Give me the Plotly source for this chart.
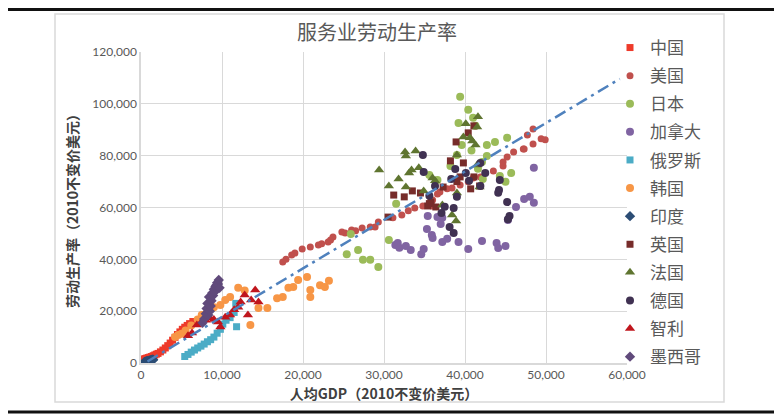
import plotly.graph_objects as go

# ---------------- data ----------------
countries = ["中国", "美国", "日本", "加拿大", "俄罗斯", "韩国", "印度", "英国", "法国", "德国", "智利", "墨西哥"]

cn_x = [300, 500, 700, 900, 1100, 1300, 1500, 1700, 1900, 2100, 2400, 2700, 3000, 3300, 3600, 3900, 4200, 4500, 4800, 5100, 5400, 5700, 6000, 6400]
cn_y = [1500, 1700, 1900, 2100, 2300, 2500, 2800, 3100, 3400, 3700, 4300, 5000, 5800, 6700, 7700, 8800, 9900, 11000, 12000, 13000, 13800, 14500, 15200, 16000]

us_x = [17500, 17900, 18600, 19000, 19900, 20900, 21900, 22300, 23100, 23400, 23700, 24800, 25200, 26000, 26500, 27300, 28300, 28900, 29300, 31100, 32200, 33000, 33800, 34800, 35900, 36000, 36600, 36900, 37800, 38400, 39400, 40400, 41000, 41900, 43500, 44700, 44700, 45200, 46000, 47200, 47300, 48400, 47700, 48400, 49400, 49900]
us_y = [39000, 40000, 41700, 42400, 44000, 44800, 45500, 46000, 46700, 47500, 48600, 50500, 50200, 51300, 51000, 52100, 52500, 52500, 54400, 56000, 57100, 58700, 59800, 60600, 60600, 62900, 65200, 66000, 67200, 67500, 68700, 69900, 71400, 71800, 74100, 76000, 77600, 79500, 81400, 82600, 82600, 84500, 88000, 90300, 86500, 86100]

jp_x = [25400, 25900, 26800, 27400, 28300, 29300, 30600, 31500, 35600, 36600, 38200, 39000, 39200, 39400, 39600, 40400, 41000, 41300, 42100, 42200, 42700, 42700, 43700, 44300, 45000, 45200, 45700, 41600, 40800]
jp_y = [42000, 49800, 43600, 39800, 39800, 37000, 47500, 61400, 72500, 70600, 76000, 80300, 92600, 102700, 84100, 97700, 94600, 91500, 77600, 71000, 84100, 79900, 85300, 72200, 69900, 86900, 73300, 75000, 82000]

ca_x = [31400, 31700, 31900, 32700, 33300, 34600, 34900, 35300, 35400, 35900, 36000, 36600, 37000, 37200, 37200, 37800, 39200, 40400, 42100, 43900, 44100, 45000, 45300, 46300, 47300, 48000, 48500, 48500]
ca_y = [45500, 46300, 44500, 45100, 43600, 42000, 44000, 51700, 56700, 49400, 48200, 56300, 53600, 56000, 46700, 47900, 46700, 44000, 47100, 46300, 44400, 45100, 55200, 60200, 63300, 64100, 61800, 75300]

ru_x = [5400, 5800, 6200, 6600, 7000, 7400, 7800, 8200, 8600, 9000, 9400, 9800, 10100, 10500, 11000, 11500, 11700, 11800]
ru_y = [2500, 3300, 4200, 5000, 5800, 6500, 7300, 8200, 9000, 10000, 11500, 13000, 15000, 16500, 17500, 19500, 23000, 14000]

kr_x = [4200, 4600, 5000, 5500, 6200, 7000, 7500, 8200, 9000, 9800, 10400, 11000, 12000, 12800, 13500, 14500, 15600, 16800, 17500, 18200, 18800, 19400, 20500, 20900, 20900, 22100, 22700, 23200]
kr_y = [10000, 10800, 11300, 12500, 14500, 16800, 18500, 20000, 21500, 22400, 24300, 25500, 29000, 28000, 14700, 21200, 21200, 25000, 25500, 29000, 29300, 32000, 33200, 28200, 25500, 30000, 29300, 31700]

in_x = [400, 450, 500, 550, 600, 650, 700, 750, 800, 850, 900, 950, 1000, 1050, 1100, 1150, 1200, 1250, 1300, 1350, 1400, 1450, 1500]
in_y = [300, 350, 400, 450, 500, 550, 550, 600, 650, 700, 700, 750, 800, 850, 900, 950, 1000, 1050, 1100, 1150, 1200, 1250, 1300]

uk_x = [30500, 31200, 32500, 33500, 34500, 35400, 35800, 36400, 37300, 38200, 38900, 39400, 39800, 40400, 41100, 40700, 41100, 41800, 39000, 35600]
uk_y = [56300, 64800, 64100, 66400, 65600, 60600, 62100, 60200, 67900, 78000, 85300, 71800, 77200, 88800, 91500, 67200, 71800, 68300, 70000, 61500]

fr_x = [29400, 30600, 31800, 32600, 32700, 32700, 33100, 33400, 33900, 34300, 34900, 36000, 36300, 37200, 38400, 38900, 39000, 39000, 39800, 40100, 40600, 40900, 41300, 41500, 41600, 41500, 41800]
fr_y = [74500, 68300, 71000, 81400, 79900, 67900, 73300, 74500, 81800, 75300, 66400, 71400, 70300, 61000, 57100, 54800, 65600, 80300, 87200, 92300, 86900, 85700, 84100, 91100, 95000, 76400, 67900]

de_x = [34800, 34900, 35600, 36300, 37100, 38100, 38600, 38600, 38300, 38800, 39000, 40100, 40500, 41900, 42500, 41900, 44300, 44200, 44100, 45200, 45500, 45300, 37500]
de_y = [80300, 73700, 64500, 68300, 57900, 52500, 50200, 59800, 71000, 74900, 64100, 73300, 70300, 77200, 73300, 68300, 70600, 66800, 65700, 62100, 56700, 55500, 60300]

cl_x = [5800, 6300, 6900, 7400, 8000, 8500, 9000, 9500, 9800, 10400, 11000, 11500, 12000, 12300, 12800, 13200, 13600, 14100, 14500]
cl_y = [10500, 11600, 14700, 15500, 16500, 17500, 16800, 15800, 13900, 17700, 18500, 20500, 21500, 23500, 26200, 18500, 24300, 28200, 23500]

mx_x = [7600, 7800, 8000, 8100, 8200, 8300, 8400, 8500, 8600, 8700, 8800, 8900, 9000, 9100, 9200, 9300, 9400, 9500, 9600, 9700]
mx_y = [15500, 17000, 19000, 21000, 23000, 18500, 25500, 20000, 22000, 24000, 27000, 26000, 28500, 27500, 29500, 30000, 31000, 30500, 32000, 29000]

# linear trend line (fitted parameters)
trend_x = [800, 59100]
trend_slope = 1.87
trend_intercept = -900

x_ticks = [0, 10000, 20000, 30000, 40000, 50000, 60000]
y_ticks = [0, 20000, 40000, 60000, 80000, 100000, 120000]

# ---------------- styling ----------------
series = [
    (cn_x, cn_y, "#ee3a2a", "square", 7),
    (us_x, us_y, "#c0504d", "circle", 7),
    (jp_x, jp_y, "#9bbb59", "circle", 8),
    (ca_x, ca_y, "#8064a2", "circle", 8),
    (ru_x, ru_y, "#4bacc6", "square", 7),
    (kr_x, kr_y, "#f79646", "circle", 8),
    (in_x, in_y, "#2c4d75", "diamond", 8),
    (uk_x, uk_y, "#772c2a", "square", 7),
    (fr_x, fr_y, "#5f7530", "triangle-up", 9),
    (de_x, de_y, "#403152", "circle", 8),
    (cl_x, cl_y, "#c0161d", "triangle-up", 9),
    (mx_x, mx_y, "#604a7b", "diamond", 8),
]

W, H = 782, 417
OFF = 8  # page offset of the figure (default body margin)
# plot-area edges in page pixels
PL, PR, PT, PB = 141, 627, 52, 363
ML, MR, MT, MB = PL - OFF, W - (PR - OFF), PT - OFF, H - (PB - OFF)
PW, PH = PR - PL, PB - PT

def px_to_paper_x(px):
    return (px - PL) / PW

def px_to_paper_y(py):
    return (PB - py) / PH

CJK = "Noto Sans CJK SC"
GRAY = "#595959"

fig = go.Figure()
for i, (name, (xs, ys, color, sym, size)) in enumerate(zip(countries, series)):
    fig.add_trace(go.Scatter(
        x=xs, y=ys, mode="markers", name=name, legendgroup=f"g{i}",
        marker=dict(color=color, symbol=sym, size=size, line=dict(width=0)),
    ))

trend_y = [trend_slope * v + trend_intercept for v in trend_x]
fig.add_trace(go.Scatter(
    x=trend_x, y=trend_y, mode="lines", showlegend=False,
    line=dict(color="#4f81bd", width=2.5, dash="12px,5px,3px,5px"),
))

shapes = [
    dict(type="rect", xref="paper", yref="paper",
         x0=px_to_paper_x(55), x1=px_to_paper_x(724),
         y0=px_to_paper_y(402), y1=px_to_paper_y(14),
         line=dict(color="#d9d9d9", width=1.5), layer="below"),
    dict(type="line", xref="paper", yref="paper",
         x0=px_to_paper_x(OFF), x1=px_to_paper_x(782),
         y0=px_to_paper_y(OFF + 1.5), y1=px_to_paper_y(OFF + 1.5),
         line=dict(color="#111111", width=3)),
    dict(type="line", xref="paper", yref="paper",
         x0=px_to_paper_x(OFF), x1=px_to_paper_x(782),
         y0=px_to_paper_y(412), y1=px_to_paper_y(412),
         line=dict(color="#111111", width=3)),
]

fig.update_layout(
    width=W, height=H,
    margin=dict(l=ML, r=MR, t=MT, b=MB, autoexpand=False),
    paper_bgcolor="white", plot_bgcolor="white",
    font=dict(family=CJK, color=GRAY),
    title=dict(text="服务业劳动生产率", x=px_to_paper_x(377), xref="paper",
               xanchor="center", y=1 - (33 - OFF) / H, yanchor="middle",
               font=dict(family=CJK, size=20, color=GRAY)),
    showlegend=True,
    legend=dict(x=602 / W, y=1 - 22 / H, xref="container", yref="container",
                xanchor="left", yanchor="top",
                font=dict(family=CJK, size=17, color=GRAY),
                tracegroupgap=3, traceorder="grouped", itemwidth=30,
                maxheight=400, bgcolor="rgba(0,0,0,0)"),
    shapes=shapes,
    xaxis=dict(range=[0, 60000], tickvals=x_ticks, tickformat=",", automargin=False,
               showgrid=True, gridcolor="#d9d9d9", gridwidth=1,
               zeroline=False, showline=True, linecolor="#d9d9d9", linewidth=1.5,
               ticks="", tickfont=dict(family="Lato", size=12, color=GRAY),
               title=dict(text="<b>人均GDP（2010不变价美元）</b>", standoff=8,
                          font=dict(family=CJK, size=14, color="#404040"))),
    yaxis=dict(range=[0, 120000], tickvals=y_ticks, tickformat=",", automargin=False,
               showgrid=True, gridcolor="#d9d9d9", gridwidth=1,
               zeroline=False, showline=True, linecolor="#d9d9d9", linewidth=1.5,
               ticks="", tickfont=dict(family="Lato", size=12, color=GRAY),
               title=dict(text="<b>劳动生产率（2010不变价美元）</b>", standoff=10,
                          font=dict(family=CJK, size=14, color="#404040"))),
)

fig.write_html("out.html")
